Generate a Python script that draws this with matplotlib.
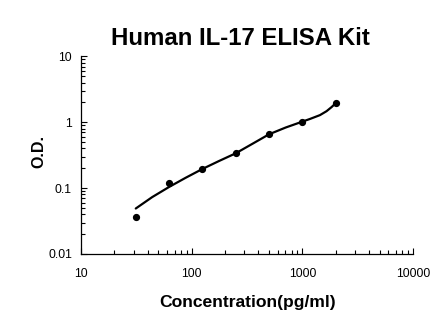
import numpy as np
import matplotlib
matplotlib.use("Agg")
import matplotlib.pyplot as plt
from matplotlib.ticker import LogLocator, FixedLocator, FixedFormatter, NullFormatter

plt.rcParams['font.family'] = ['Liberation Sans', 'DejaVu Sans']

# Data: standards
conc = [31.25, 62.5, 125, 250, 500, 1000, 2000]
od = [0.036, 0.119, 0.195, 0.344, 0.655, 1.02, 1.94]
# Fitted standard curve
fit_conc = [31.25, 44, 62.5, 88, 125, 177, 250, 354, 500, 707, 1000, 1172, 1442, 1656, 1841, 2000]
fit_od = [0.049, 0.073, 0.104, 0.143, 0.195, 0.258, 0.337, 0.470, 0.655, 0.830, 1.02, 1.12, 1.28, 1.47, 1.70, 1.94]
x_ticks = [10, 100, 1000, 10000]
x_tick_labels = ["10", "100", "1000", "10000"]
y_ticks = [0.01, 0.1, 1, 10]
y_tick_labels = ["0.01", "0.1", "1", "10"]

fig = plt.figure(figsize=(4.46, 3.26), dpi=100)
ax = fig.add_axes([0.1816, 0.2209, 0.926 - 0.1816, 0.8273 - 0.2209])

ax.plot(fit_conc, fit_od, color='black', lw=1.6, solid_capstyle='round', solid_joinstyle='round')
ax.plot(conc, od, 'o', color='black', markersize=4.2, linestyle='none')

ax.set_xscale('log')
ax.set_yscale('log')
ax.set_xlim(10, 10000)
ax.set_ylim(0.01, 10)

ax.xaxis.set_major_locator(FixedLocator(x_ticks))
ax.xaxis.set_major_formatter(FixedFormatter(x_tick_labels))
ax.yaxis.set_major_locator(FixedLocator(y_ticks))
ax.yaxis.set_major_formatter(FixedFormatter(y_tick_labels))
ax.xaxis.set_minor_locator(LogLocator(base=10, subs=np.arange(2, 10)))
ax.yaxis.set_minor_locator(LogLocator(base=10, subs=np.arange(2, 10)))
ax.xaxis.set_minor_formatter(NullFormatter())
ax.yaxis.set_minor_formatter(NullFormatter())

ax.tick_params(which='both', direction='in', labelsize=8.8, width=0.8, color='black')
ax.tick_params(which='major', length=4)
ax.tick_params(which='minor', length=3)
ax.tick_params(axis='x', pad=10)
ax.tick_params(axis='y', pad=6.5)

for s in ['top', 'right']:
    ax.spines[s].set_visible(False)
for s in ['left', 'bottom']:
    ax.spines[s].set_linewidth(0.9)

fig.text(0.540, 0.862, "Human IL-17 ELISA Kit", ha='center', va='baseline',
         fontsize=17.3, fontweight='bold')
fig.text(0.5555, 0.059, "Concentration(pg/ml)", ha='center', va='baseline',
         fontsize=12.6, fontweight='bold')
fig.text(0.087, 0.534, "O.D.", ha='center', va='center', rotation=90,
         fontsize=11.5, fontweight='bold')

fig.savefig("out.png", dpi=100)
